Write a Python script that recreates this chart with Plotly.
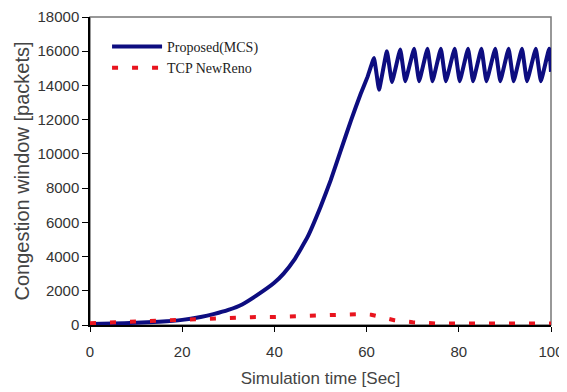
import plotly.graph_objects as go

# Proposed (MCS) congestion window
mcs_time = [0, 5, 10, 15, 20, 24, 27, 30, 33, 36, 39.9, 42, 44.3, 47.2, 50, 52.2, 54.4, 56.6, 58.7, 60.2,
            61.6, 62.7, 64.4, 65.5, 67.3, 68.4, 70.3, 71.4, 73.2, 74.3, 76.1, 77.2,
            79.1, 80.2, 82.0, 83.1, 84.9, 86.0, 87.9, 89.0, 90.8, 91.9, 93.7, 94.8,
            96.7, 97.8, 99.6, 100]
mcs_cwnd = [60, 90, 130, 190, 300, 470, 650, 880, 1200, 1700, 2450, 3000, 3800, 5150, 6900, 8450, 10200, 11950, 13500, 14500,
            15600, 13750, 16000, 14200, 16100, 14250, 16150, 14250, 16150, 14250, 16150, 14250,
            16150, 14250, 16150, 14250, 16150, 14250, 16150, 14250, 16150, 14250, 16150, 14250,
            16150, 14250, 16150, 14800]

# TCP NewReno congestion window
reno_time = [0, 5, 10, 15, 20, 25, 30, 35, 40, 45, 50, 53, 56, 59, 61, 63, 66, 70, 75, 80, 90, 100]
reno_cwnd = [100, 150, 200, 240, 300, 390, 440, 460, 470, 520, 560, 620, 640, 640, 600, 480, 280, 160, 90, 90, 90, 90]

x_ticks = [0, 20, 40, 60, 80, 100]
y_ticks = [0, 2000, 4000, 6000, 8000, 10000, 12000, 14000, 16000, 18000]
y_tick_labels = ["0", "2000", "4000", "6000", "8000", "10000", "12000", "14000", "16000", "18000"]

fig = go.Figure()
fig.add_trace(go.Scatter(x=mcs_time, y=mcs_cwnd, mode="lines", name="Proposed(MCS)",
                         line=dict(color="#0d0d80", width=4, shape="spline", smoothing=0.3)))
fig.add_trace(go.Scatter(x=reno_time, y=reno_cwnd, mode="lines", name="TCP NewReno",
                         line=dict(color="#e8141e", width=4, dash="6px,14px")))

axis_font = dict(family="Liberation Sans, Arial, sans-serif", size=15, color="#333333")
fig.update_layout(
    width=567, height=392,
    margin=dict(l=82, r=24, t=9, b=75, autoexpand=False),
    paper_bgcolor="white", plot_bgcolor="white",
    showlegend=True,
    legend=dict(x=0.037, y=0.955, xanchor="left", yanchor="top",
                bgcolor="rgba(0,0,0,0)", borderwidth=0,
                font=dict(family="Liberation Serif, Times New Roman, serif", size=14, color="#222222"),
                itemwidth=50, tracegroupgap=0),
    xaxis=dict(range=[0, 100], tickvals=x_ticks, showgrid=False, zeroline=False,
               showline=True, linecolor="black", linewidth=1.5,
               ticks="outside", ticklen=5, tickcolor="black", automargin=False,
               ticklabelstandoff=7,
               tickfont=axis_font,
               title=dict(text="Simulation time [Sec]", standoff=13,
                          font=dict(family="Liberation Sans, Arial, sans-serif", size=17, color="#444444"))),
    yaxis=dict(range=[0, 18000], tickvals=y_ticks, ticktext=y_tick_labels, showgrid=False, zeroline=False,
               showline=True, linecolor="black", linewidth=1.5,
               ticks="outside", ticklen=6, tickcolor="black", automargin=False,
               tickfont=axis_font,
               title=dict(text="Congestion window [packets]", standoff=3,
                          font=dict(family="Liberation Sans, Arial, sans-serif", size=20, color="#444444"))),
    shapes=[dict(type="rect", xref="paper", yref="paper", x0=0, x1=1, y0=0, y1=1,
                 line=dict(color="#777777", width=1.5), layer="below")],
)

fig.write_html("out.html")
